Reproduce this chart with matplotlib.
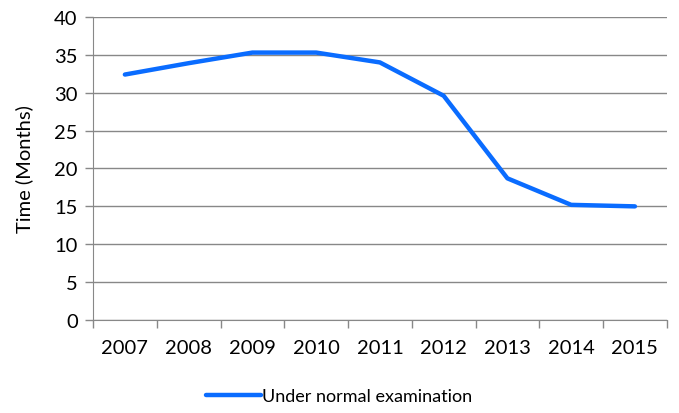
import matplotlib
matplotlib.use('Agg')
import matplotlib.pyplot as plt

plt.rcParams['font.family'] = ['Lato', 'DejaVu Sans']

# data
years = ['2007', '2008', '2009', '2010', '2011', '2012', '2013', '2014', '2015']
months = [32.4, 33.9, 35.3, 35.3, 34.0, 29.6, 18.7, 15.2, 15.0]

fs = 14.5

fig = plt.figure(figsize=(6.79, 4.14), dpi=100)
ax = fig.add_axes([0.137, 0.2246, 0.845, 0.732])

x = list(range(len(years)))
ax.plot(x, months, color='#0a6cff', linewidth=3.2, solid_capstyle='round',
        label='Under normal examination', zorder=3)

ax.set_ylim(0, 40)
ax.set_yticks(range(0, 41, 5))
ax.set_xlim(-0.5, len(years) - 0.5)

# ticks between categories, labels centred
ax.set_xticks([i - 0.5 for i in range(len(years) + 1)])
ax.set_xticklabels([])
ax.set_xticks(x, minor=True)
ax.set_xticklabels(years, minor=True)
ax.tick_params(axis='x', which='minor', length=0, pad=14, labelsize=fs)
ax.tick_params(axis='x', which='major', length=6, color='#888888', width=1)
ax.tick_params(axis='y', length=6, color='#888888', width=1, pad=5, labelsize=fs)

ax.grid(axis='y', color='#888888', linewidth=1)
ax.set_axisbelow(True)
for s in ['top', 'right']:
    ax.spines[s].set_visible(False)
ax.spines['left'].set_color('#888888')
ax.spines['bottom'].set_color('#888888')

ax.set_ylabel('Time (Months)', fontsize=fs, labelpad=15)

fig.legend(loc='center', bbox_to_anchor=(0.5, 0.04), frameon=False,
           fontsize=13, handlelength=3.0, handletextpad=0.1)

plt.savefig('out.png', dpi=100)
